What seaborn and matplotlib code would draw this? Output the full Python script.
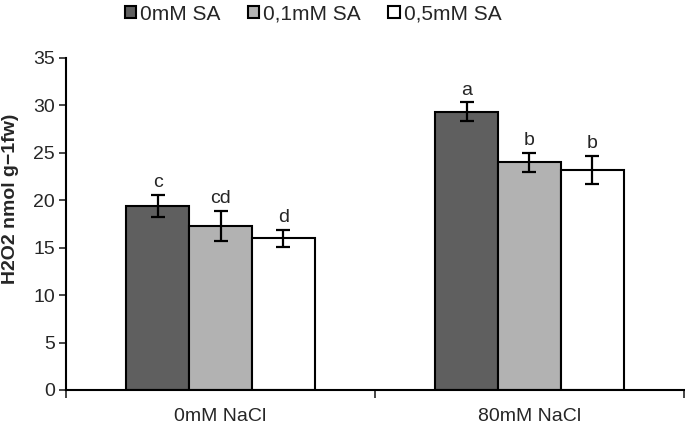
import matplotlib
matplotlib.use("Agg")
import matplotlib.pyplot as plt
import seaborn as sns
import pandas as pd
from matplotlib.ticker import FixedLocator

categories = ["0mM NaCl", "80mM NaCl"]
treatments = ["0mM SA", "0,1mM SA", "0,5mM SA"]
values = {
    "0mM SA": [19.4, 29.3],
    "0,1mM SA": [17.3, 24.0],
    "0,5mM SA": [16.0, 23.2],
}
errors = {
    "0mM SA": [1.2, 1.0],
    "0,1mM SA": [1.6, 1.0],
    "0,5mM SA": [0.9, 1.5],
}
letters = {
    "0mM SA": ["c", "a"],
    "0,1mM SA": ["cd", "b"],
    "0,5mM SA": ["d", "b"],
}
colors = ["#5f5f5f", "#b2b2b2", "#ffffff"]

rows = []
for t in treatments:
    for c, v in zip(categories, values[t]):
        rows.append({"cat": c, "trt": t, "val": v})
df = pd.DataFrame(rows)

sns.set_style("white")
plt.rcParams["font.family"] = ["Liberation Sans", "DejaVu Sans"]

fig = plt.figure(figsize=(6.85, 4.28), dpi=100)
ax = fig.add_axes([0.0964, 0.0888, 0.902, 0.776])

sns.barplot(data=df, x="cat", y="val", hue="trt", order=categories,
            hue_order=treatments, palette=colors, width=0.61, gap=0,
            edgecolor="black", linewidth=1.5, errorbar=None, ax=ax,
            legend=True)

# error bars and letters
for i, t in enumerate(treatments):
    cont = ax.containers[i]
    for j, bar in enumerate(cont.patches):
        xc = bar.get_x() + bar.get_width() / 2
        h = bar.get_height()
        e = errors[t][j]
        ax.errorbar(xc, h, yerr=e, fmt="none", ecolor="black",
                    elinewidth=1.6, capsize=5, capthick=1.6, zorder=5)
        ax.text(xc, h + e + 0.4, letters[t][j], ha="center", va="bottom",
                fontsize=14)

ax.set_ylim(0, 35)
ax.set_xlim(-0.5, 1.5)
ax.set_yticks(range(0, 36, 5))
ax.tick_params(axis="y", labelsize=14, length=5, width=1.2, direction="out",
               left=True, pad=3)
ax.tick_params(axis="x", labelsize=14, length=0, pad=13)
ax.xaxis.set_minor_locator(FixedLocator([-0.5, 0.5, 1.5]))
ax.tick_params(axis="x", which="minor", bottom=True, length=6, width=1.2,
               direction="out")
ax.set_xlabel("")
ax.set_ylabel("H2O2 nmol g\u22121fw)", fontsize=14, fontweight="bold")
ax.yaxis.set_label_coords(-0.0906, 0.575)
ax.yaxis.label.set_va("center")

for s in ["top", "right"]:
    ax.spines[s].set_visible(False)
for s in ["left", "bottom"]:
    ax.spines[s].set_color("black")
    ax.spines[s].set_linewidth(1.5)

handles, labels = ax.get_legend_handles_labels()
ax.legend(handles, labels, loc="center", bbox_to_anchor=(313 / 685, 1 - 14 / 428),
          bbox_transform=fig.transFigure, ncol=3, frameon=False, fontsize=15,
          handlelength=0.55, handleheight=0.55, handletextpad=0.2,
          columnspacing=1.3, borderaxespad=0)

fig.savefig("out.png", dpi=100)
